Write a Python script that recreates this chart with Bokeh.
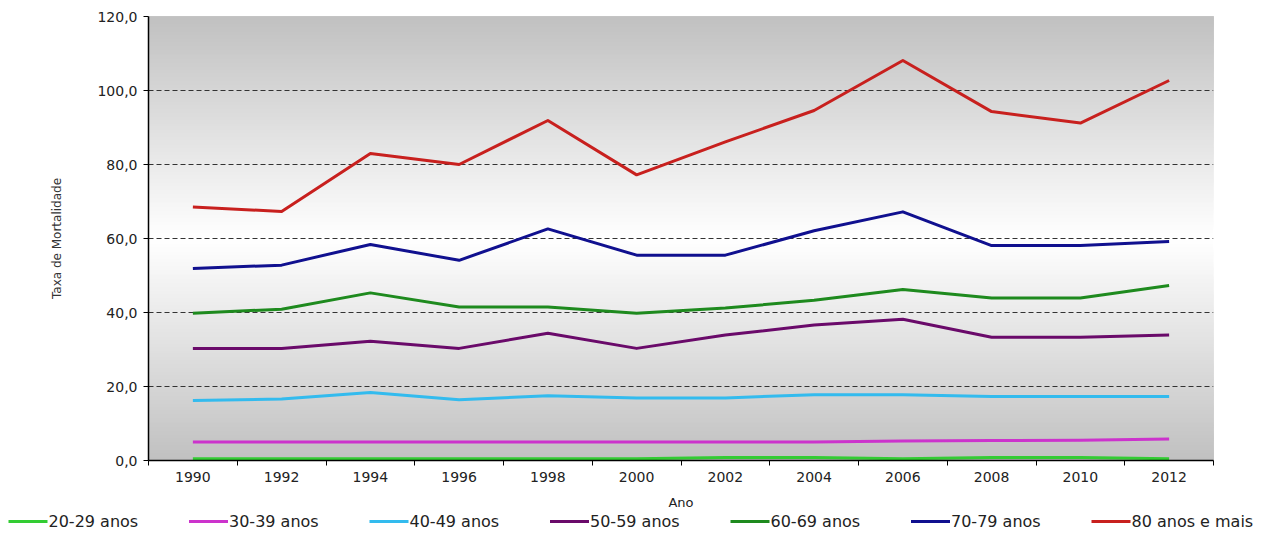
from bokeh.plotting import figure
from bokeh.models import Range1d, FixedTicker, CustomJSTickFormatter
from bokeh.core.properties import value
from bokeh.embed import file_html
from bokeh.resources import INLINE
import numpy as np

# ---------------- data ----------------
years = [1990, 1992, 1994, 1996, 1998, 2000, 2002, 2004, 2006, 2008, 2010, 2012]
v20_29 = [0.5, 0.5, 0.5, 0.5, 0.5, 0.5, 0.8, 0.8, 0.5, 0.8, 0.8, 0.5]
v30_39 = [5.0, 5.0, 5.0, 5.0, 5.0, 5.0, 5.0, 5.0, 5.3, 5.4, 5.5, 5.8]
v40_49 = [16.2, 16.6, 18.4, 16.4, 17.5, 16.9, 16.9, 17.8, 17.8, 17.3, 17.3, 17.3]
v50_59 = [30.3, 30.3, 32.2, 30.3, 34.4, 30.3, 33.9, 36.6, 38.2, 33.3, 33.3, 33.9]
v60_69 = [39.8, 40.9, 45.3, 41.5, 41.5, 39.8, 41.2, 43.3, 46.2, 43.9, 43.9, 47.3]
v70_79 = [51.9, 52.8, 58.4, 54.1, 62.6, 55.5, 55.5, 62.1, 67.2, 58.1, 58.1, 59.2]
v80_mais = [68.5, 67.3, 83.0, 80.0, 91.9, 77.2, 86.1, 94.6, 108.1, 94.3, 91.2, 102.7]

series_labels = ["20-29 anos", "30-39 anos", "40-49 anos", "50-59 anos",
                 "60-69 anos", "70-79 anos", "80 anos e mais"]
series_values = [v20_29, v30_39, v40_49, v50_59, v60_69, v70_79, v80_mais]
series_colors = ["#33cc33", "#cc33cc", "#33bbee", "#6a0a6a",
                 "#1e8a1e", "#10108f", "#c8201e"]

y_ticks = [0, 20, 40, 60, 80, 100, 120]
y_label = "Taxa de Mortalidade"
x_label = "Ano"

FONT = "DejaVu Sans"

# ---------------- main figure ----------------
p = figure(width=1268, height=512, x_range=Range1d(1989, 2013), y_range=Range1d(0, 120),
           output_backend="svg", toolbar_location=None,
           min_border_left=148, min_border_right=55, min_border_top=16, min_border_bottom=52,
           outline_line_color=None, border_fill_color="white", background_fill_color="white")

# background gradient (gray at top/bottom, white in the middle), painted as
# nested bands from the middle outwards so that no seams appear
def gray(level):
    c = int(round(level))
    return "#%02x%02x%02x" % (c, c, c)

edge = np.arange(60, 120, 0.5)           # distances from the middle
lvl = 192 + 63 * (1 - (edge - 60) / 60)
# upper half: bands [e, 120]; lower half: bands [0, 120 - e]
p.quad(left=1989, right=2013, bottom=edge, top=120, fill_color=[gray(v) for v in lvl],
       line_color=None, level="image")
p.quad(left=1989, right=2013, bottom=0, top=120 - edge, fill_color=[gray(v) for v in lvl],
       line_color=None, level="image")

for vals, col in zip(series_values, series_colors):
    p.line(years, vals, line_color=col, line_width=3, line_join="round")

# grid
p.xgrid.visible = False
p.ygrid.ticker = FixedTicker(ticks=y_ticks[1:])
p.ygrid.grid_line_color = "#333333"
p.ygrid.grid_line_dash = "5 3"
p.ygrid.grid_line_width = 1

# x axis
xa = p.xaxis[0]
xa.ticker = FixedTicker(ticks=years, minor_ticks=[y - 1 for y in years] + [years[-1] + 1])
xa.major_tick_out = 0
xa.major_tick_in = 0
xa.minor_tick_out = 5
xa.minor_tick_in = 0
xa.minor_tick_line_color = "black"
xa.axis_line_color = "black"
xa.axis_line_width = 1.5
xa.major_label_standoff = 6
xa.major_label_text_font = FONT
xa.major_label_text_font_size = "14px"
xa.major_label_text_color = "#222222"
xa.axis_label = x_label
xa.axis_label_standoff = 10
xa.axis_label_text_font = FONT
xa.axis_label_text_font_size = "13px"
xa.axis_label_text_font_style = "normal"
xa.axis_label_text_color = "#222222"

# y axis
ya = p.yaxis[0]
ya.ticker = FixedTicker(ticks=y_ticks)
ya.formatter = CustomJSTickFormatter(code="return tick.toFixed(1).replace('.', ',');")
ya.major_tick_out = 5
ya.major_tick_in = 0
ya.minor_tick_line_color = None
ya.axis_line_color = "black"
ya.axis_line_width = 1.5
ya.major_label_standoff = 6
ya.major_label_text_font = FONT
ya.major_label_text_font_size = "14px"
ya.major_label_text_color = "#222222"
ya.axis_label = y_label
ya.axis_label_text_font = FONT
ya.axis_label_text_font_size = "12px"
ya.axis_label_text_font_style = "normal"
ya.axis_label_text_color = "#333333"
ya.axis_label_standoff = 30

# ---------------- legend strip (separate root, full width) ----------------
leg = figure(width=1268, height=26, x_range=Range1d(0, 1268), y_range=Range1d(0, 26),
             output_backend="svg", toolbar_location=None,
             min_border=0, min_border_left=0, min_border_right=0, min_border_top=0, min_border_bottom=0,
             x_axis_location=None, y_axis_location=None,
             outline_line_color=None, border_fill_color="white", background_fill_color="white")
leg.grid.visible = False
step = 180.5
x0 = [8 + i * step for i in range(len(series_labels))]
leg.segment(x0=x0, y0=[17] * 7, x1=[x + 39 for x in x0], y1=[17] * 7,
            line_color=series_colors, line_width=3)
leg.text(x=[x + 40 for x in x0], y=[17] * 7, text=series_labels,
         text_font=value(FONT), text_font_size="16px", text_color="#222222",
         text_align="left", text_baseline="middle")

open("out.html", "w").write(file_html([p, leg], INLINE))
